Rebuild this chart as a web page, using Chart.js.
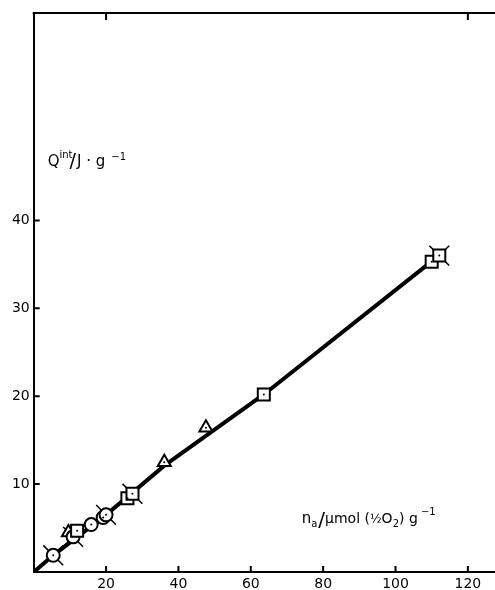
<!DOCTYPE html>
<html>
<head>
<meta charset="utf-8">
<script src="https://cdn.jsdelivr.net/npm/chart.js@4.4.1/dist/chart.umd.min.js"></script>
<style>
  html, body { margin: 0; padding: 0; background: #fff; }
  #wrap { width: 495px; height: 590px; }
</style>
</head>
<body>
<div id="wrap"><canvas id="c" width="495" height="590"></canvas></div>
<script>
// Integral heat of adsorption against amount adsorbed
const xTicks = [20, 40, 60, 80, 100, 120];
const yTicks = [10, 20, 30, 40];
const topTicks = [20, 120];

const circleX = [5.4, 10.9, 15.9, 19.2, 20.0];
const circleY = [1.9, 4.0, 5.4, 6.2, 6.5];

const triangleX = [9.6, 36.1, 47.6];
const triangleY = [4.5, 12.5, 16.4];

const squareX = [12.0, 25.9, 27.3, 63.6, 110.0, 112.1];
const squareY = [4.7, 8.4, 8.9, 20.2, 35.3, 36.0];

const crossX = [5.4, 10.9, 20.0, 27.3, 112.1];
const crossY = [1.9, 4.0, 6.5, 8.9, 36.0];

const fitX = [0, 5.4, 20.0, 36.1, 63.6, 112.0];
const fitY = [0, 1.9, 6.5, 12.1, 20.2, 36.0];

const pts = (xs, ys) => xs.map((v, i) => ({ x: v, y: ys[i] }));

const FONT = '"DejaVu Sans", sans-serif';

// tick marks drawn on the inside of the frame, plus the top border
const frameTicks = {
  id: 'frameTicks',
  afterDraw(chart) {
    const { ctx, chartArea: a, scales: { x, y } } = chart;
    ctx.save();
    ctx.strokeStyle = '#000';
    ctx.lineWidth = 2;
    ctx.beginPath();
    ctx.moveTo(a.left - 1, a.top);
    ctx.lineTo(a.right, a.top);
    xTicks.forEach(v => {
      const px = x.getPixelForValue(v);
      ctx.moveTo(px, a.bottom);
      ctx.lineTo(px, a.bottom - 6);
    });
    topTicks.forEach(v => {
      const px = x.getPixelForValue(v);
      ctx.moveTo(px, a.top);
      ctx.lineTo(px, a.top + 7);
    });
    yTicks.forEach(v => {
      const py = y.getPixelForValue(v);
      ctx.moveTo(a.left, py);
      ctx.lineTo(a.left + 6, py);
    });
    ctx.stroke();
    ctx.restore();
  }
};

// axis titles with super- and subscripts
function drawRich(ctx, x, y, parts) {
  let cx = x;
  parts.forEach(([t, size, dy, dx]) => {
    ctx.font = size + 'px ' + FONT;
    cx += (dx || 0);
    ctx.fillText(t, cx, y + dy);
    cx += ctx.measureText(t).width;
  });
}

const axisTitles = {
  id: 'axisTitles',
  afterDraw(chart) {
    const { ctx, chartArea: a } = chart;
    ctx.save();
    ctx.fillStyle = '#000';
    ctx.textBaseline = 'alphabetic';
    ctx.textAlign = 'left';
    drawRich(ctx, a.left + 14, 166, [
      ['Q', 15, 0], ['int', 10, -8], ['/', 19, 1, -3], ['J', 15, 0, 1],
      [' · ', 15, 0], ['g', 15, 0], [' \u22121', 10, -6, 3]
    ]);
    drawRich(ctx, a.left + 268, 523, [
      ['n', 15, 0], ['a', 10, 4], ['/', 20, 3, 1], ['\u03bcmol', 14, 0],
      [' (', 14, 0], ['\u00bd', 12, 0], ['O', 14, 0], ['2', 10, 4], [')', 14, 0],
      [' g', 14, 0], [' \u22121', 10, -8]
    ]);
    ctx.restore();
  }
};

const markerBase = {
  borderColor: '#000',
  backgroundColor: '#fff',
  borderWidth: 2,
  showLine: false
};

new Chart(document.getElementById('c'), {
  type: 'scatter',
  data: {
    datasets: [
      {
        label: 'fit',
        data: pts(fitX, fitY),
        showLine: true,
        borderColor: '#000',
        borderWidth: 4,
        pointRadius: 0,
        tension: 0,
        order: 6
      },
      {
        label: 'crossed',
        data: pts(crossX, crossY),
        pointStyle: 'crossRot',
        pointRadius: 14,
        borderColor: '#000',
        borderWidth: 1.5,
        showLine: false,
        order: 5
      },
      Object.assign({ label: 'circles', data: pts(circleX, circleY), pointStyle: 'circle', pointRadius: 6.5, order: 3 }, markerBase),
      Object.assign({ label: 'triangles', data: pts(triangleX, triangleY), pointStyle: 'triangle', pointRadius: 7.5, order: 4 }, markerBase),
      Object.assign({ label: 'squares', data: pts(squareX, squareY), pointStyle: 'rect', pointRadius: 8.5, order: 2 }, markerBase),
      {
        label: 'centres',
        data: pts(circleX.concat(triangleX, squareX), circleY.concat(triangleY, squareY)),
        pointStyle: 'circle',
        pointRadius: 1,
        backgroundColor: '#000',
        borderColor: '#000',
        borderWidth: 0,
        showLine: false,
        order: 1
      }
    ]
  },
  options: {
    responsive: false,
    devicePixelRatio: 1,
    animation: false,
    layout: { autoPadding: false, padding: { top: 13, right: 0, left: 0, bottom: 0 } },
    plugins: { legend: { display: false }, tooltip: { enabled: false } },
    scales: {
      x: {
        type: 'linear',
        min: 0,
        max: 127.5,
        afterBuildTicks: s => { s.ticks = xTicks.map(v => ({ value: v })); },
        afterFit: s => { s.height = 18; s.paddingLeft = 0; s.paddingRight = 0; },
        grid: { display: false, drawTicks: false },
        border: { display: true, color: '#000', width: 2 },
        ticks: { color: '#000', font: { family: FONT, size: 14 }, padding: 4, maxRotation: 0 }
      },
      y: {
        type: 'linear',
        min: 0,
        max: 63.6,
        afterBuildTicks: s => { s.ticks = yTicks.map(v => ({ value: v })); },
        afterFit: s => { s.width = 33.7; s.paddingTop = 0; s.paddingBottom = 0; },
        grid: { display: false, drawTicks: false },
        border: { display: true, color: '#000', width: 2 },
        ticks: { color: '#000', font: { family: FONT, size: 14 }, padding: 4 }
      }
    }
  },
  plugins: [frameTicks, axisTitles]
});
</script>
</body>
</html>
